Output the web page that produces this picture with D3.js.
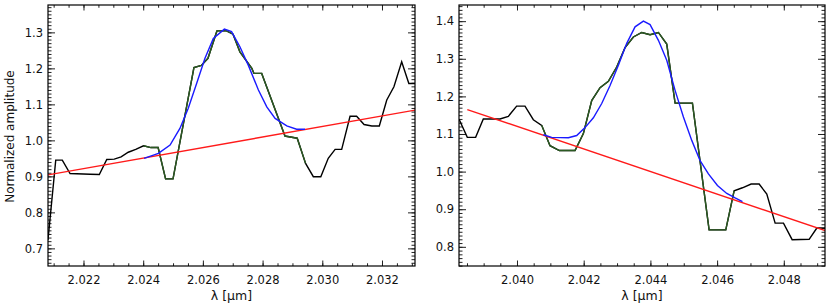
<!DOCTYPE html>
<html>
<head>
<meta charset="utf-8">
<script src="https://cdn.jsdelivr.net/npm/d3@7"></script>
<style>
  body { margin: 0; background: #fff; }
  svg { display: block; }
  text { font-family: "DejaVu Sans", Verdana, sans-serif; fill: #111; }
</style>
</head>
<body>
<svg id="chart" width="830" height="307"></svg>
<script>
// ---- left panel data (wavelength in um, normalized amplitude) ----
var wlLeft = [2.02081, 2.02107, 2.02129, 2.02155, 2.02222, 2.02253, 2.02278, 2.02303, 2.02326,
  2.0235, 2.02375, 2.02401, 2.02426, 2.0245, 2.02475, 2.025, 2.0257, 2.02595, 2.02617,
  2.02647, 2.02679, 2.02701, 2.02724, 2.02764, 2.02771, 2.02797, 2.02875, 2.02916,
  2.02944, 2.0297, 2.02995, 2.0302, 2.03043, 2.03065, 2.03093, 2.03115, 2.0314,
  2.03166, 2.03191, 2.03216, 2.0324, 2.03266, 2.0329, 2.03311];
var ampLeft = [0.723, 0.945, 0.945, 0.908, 0.906, 0.905, 0.947, 0.948, 0.954,
  0.967, 0.975, 0.985, 0.980, 0.980, 0.893, 0.893, 1.202, 1.208, 1.228,
  1.304, 1.304, 1.295, 1.246, 1.200, 1.186, 1.186, 1.012, 1.006,
  0.936, 0.899, 0.899, 0.950, 0.975, 0.975, 1.067, 1.067, 1.044,
  1.040, 1.040, 1.112, 1.149, 1.218, 1.158, 1.158];

var fitWlLeft = [2.02403, 2.02451, 2.0249, 2.02523, 2.02551, 2.02579, 2.02607, 2.02635, 2.02672,
  2.02696, 2.02724, 2.02752, 2.02786, 2.02814, 2.02842, 2.02881, 2.02914, 2.02942];
var fitLeft = [0.950, 0.964, 0.987, 1.033, 1.089, 1.158, 1.228, 1.283, 1.309,
  1.302, 1.260, 1.209, 1.140, 1.093, 1.061, 1.040, 1.031, 1.031];

var contWlLeft = [2.02081, 2.03311];
var contLeft = [0.904, 1.084];
var lineWinLeft = [2.0240, 2.0295];

var xTicksLeft = [2.022, 2.024, 2.026, 2.028, 2.030, 2.032];
var yTicksLeft = [0.7, 0.8, 0.9, 1.0, 1.1, 1.2, 1.3];

// ---- right panel data ----
var wlRight = [2.03826, 2.03851, 2.03876, 2.03899, 2.03949, 2.03974, 2.03999, 2.04024, 2.04049,
  2.04074, 2.04099, 2.04127, 2.04174, 2.04199, 2.04224, 2.04249, 2.04274, 2.04299,
  2.04324, 2.04349, 2.04374, 2.04399, 2.04424, 2.04449, 2.04474, 2.04526, 2.04576,
  2.04626, 2.04651, 2.04676, 2.04702, 2.04726, 2.04749, 2.04774, 2.04799, 2.04825,
  2.04876, 2.04899, 2.04924];
var ampRight = [1.140, 1.091, 1.091, 1.140, 1.140, 1.147, 1.174, 1.174, 1.138,
  1.123, 1.069, 1.056, 1.056, 1.101, 1.189, 1.223, 1.240, 1.278,
  1.330, 1.358, 1.370, 1.364, 1.370, 1.339, 1.182, 1.182, 0.845,
  0.845, 0.949, 0.957, 0.967, 0.967, 0.940, 0.863, 0.863, 0.819,
  0.820, 0.850, 0.850];

var fitWlRight = [2.04079, 2.04104, 2.04154, 2.04179, 2.04204, 2.04229, 2.04254, 2.04279, 2.04304,
  2.04329, 2.04354, 2.04379, 2.04399, 2.04424, 2.04449, 2.04474, 2.04499, 2.04524,
  2.04549, 2.04574, 2.04601, 2.04629, 2.04654, 2.04676];
var fitRight = [1.098, 1.091, 1.090, 1.096, 1.117, 1.143, 1.181, 1.229, 1.283,
  1.341, 1.385, 1.400, 1.391, 1.349, 1.296, 1.216, 1.145, 1.083,
  1.029, 0.994, 0.963, 0.942, 0.930, 0.920];

var contWlRight = [2.03851, 2.04924];
var contRight = [1.165, 0.843];
var lineWinRight = [2.0407, 2.0466];

var xTicksRight = [2.040, 2.042, 2.044, 2.046, 2.048];
var yTicksRight = [0.8, 0.9, 1.0, 1.1, 1.2, 1.3, 1.4];


var svg = d3.select("#chart");

function zip(xs, ys) {
  return xs.map(function(x, i) { return [x, ys[i]]; });
}

function drawPanel(opt) {
  var x = d3.scaleLinear().domain(opt.xDom).range([opt.left, opt.right]);
  var y = d3.scaleLinear().domain(opt.yDom).range([opt.bottom, opt.top]);
  var w = opt.right - opt.left, h = opt.bottom - opt.top;

  var g = svg.append("g");

  //minor + major ticks, drawn inward on all four sides
  var xMinor = d3.range(Math.ceil(opt.xDom[0] / 0.0005) * 0.0005, opt.xDom[1], 0.0005);
  var yMinor = d3.range(Math.ceil(opt.yDom[0] / 0.01) * 0.01, opt.yDom[1], 0.01);

  function axisPair(axisFn, scale, vals, size, tx, ty, labels) {
    var a = axisFn(scale).tickValues(vals).tickSizeInner(-size).tickSizeOuter(0);
    if (labels) a.tickFormat(d3.format(labels));
    else a.tickFormat("");
    var ag = g.append("g").attr("transform", "translate(" + tx + "," + ty + ")").call(a);
    ag.select(".domain").remove();
    ag.selectAll("line").attr("stroke", "#222").attr("stroke-width", 1);
    return ag;
  }

  var xl = 5.5, yl = 7;
  axisPair(d3.axisBottom, x, xMinor, xl / 2, 0, opt.bottom);
  axisPair(d3.axisTop, x, xMinor, xl / 2, 0, opt.top);
  axisPair(d3.axisLeft, y, yMinor, yl / 2, opt.left, 0);
  axisPair(d3.axisRight, y, yMinor, yl / 2, opt.right, 0);

  var bx = axisPair(d3.axisBottom, x, opt.xTicks, xl, 0, opt.bottom, ".3f");
  bx.selectAll("text").attr("font-size", 11.5).attr("dy", null)
    .attr("y", 18).attr("fill", "#111")
    .style("font-family", "DejaVu Sans, sans-serif");
  axisPair(d3.axisTop, x, opt.xTicks, xl, 0, opt.top);
  var ly = axisPair(d3.axisLeft, y, opt.yTicks, yl, opt.left, 0, ".1f");
  ly.selectAll("text").attr("font-size", 11.5).attr("x", -5).attr("fill", "#111")
    .style("font-family", "DejaVu Sans, sans-serif");
  axisPair(d3.axisRight, y, opt.yTicks, yl, opt.right, 0);

  var clipId = "clip" + opt.id;
  svg.append("clipPath").attr("id", clipId)
    .append("rect").attr("x", opt.left).attr("y", opt.top).attr("width", w).attr("height", h);

  var plot = g.append("g").attr("clip-path", "url(#" + clipId + ")");
  var line = d3.line().x(function(d) { return x(d[0]); }).y(function(d) { return y(d[1]); });

  var data = zip(opt.wl, opt.amp);
  plot.append("path").datum(data).attr("d", line)
    .attr("fill", "none").attr("stroke", "#000").attr("stroke-width", 1.4);

  var inWin = data.filter(function(d) { return d[0] >= opt.win[0] && d[0] <= opt.win[1]; });
  plot.append("path").datum(inWin).attr("d", line)
    .attr("fill", "none").attr("stroke", "#2b5a22").attr("stroke-width", 1.4);

  plot.append("path").datum(zip(opt.contWl, opt.cont)).attr("d", line)
    .attr("fill", "none").attr("stroke", "#ff1a1a").attr("stroke-width", 1.4);

  plot.append("path").datum(zip(opt.fitWl, opt.fit)).attr("d", line)
    .attr("fill", "none").attr("stroke", "#1a1aff").attr("stroke-width", 1.4);

  // frame
  g.append("rect").attr("x", opt.left).attr("y", opt.top).attr("width", w).attr("height", h)
    .attr("fill", "none").attr("stroke", "#000").attr("stroke-width", 1.2);

  svg.append("text").attr("x", (opt.left + opt.right) / 2).attr("y", 299.5)
    .attr("text-anchor", "middle").attr("font-size", 12.5)
    .text("\u03bb [\u03bcm]");
}

drawPanel({
  id: "L", left: 48, right: 415, top: 5, bottom: 266,
  xDom: [2.020811, 2.033106], yDom: [0.651, 1.376],
  wl: wlLeft, amp: ampLeft, fitWl: fitWlLeft, fit: fitLeft,
  contWl: contWlLeft, cont: contLeft, win: lineWinLeft,
  xTicks: xTicksLeft, yTicks: yTicksLeft
});

drawPanel({
  id: "R", left: 459, right: 825, top: 5, bottom: 266,
  xDom: [2.038261, 2.049235], yDom: [0.749, 1.443],
  wl: wlRight, amp: ampRight, fitWl: fitWlRight, fit: fitRight,
  contWl: contWlRight, cont: contRight, win: lineWinRight,
  xTicks: xTicksRight, yTicks: yTicksRight
});

svg.append("text")
  .attr("transform", "translate(13.5,136.5) rotate(-90)")
  .attr("text-anchor", "middle").attr("font-size", 12)
  .text("Normalized amplitude");
</script>
</body>
</html>
